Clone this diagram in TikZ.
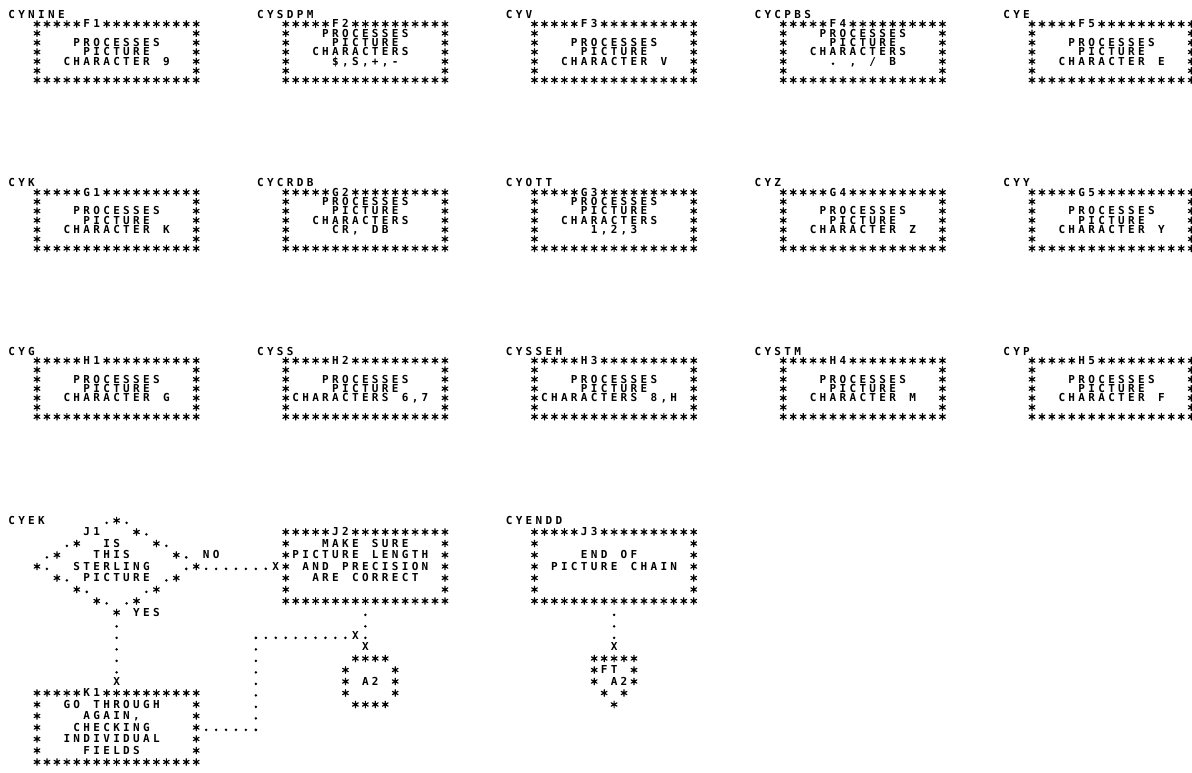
\documentclass[tikz,border=0pt]{standalone}
\usepackage{fontspec}
\newfontfamily\prt{DejaVu Sans Mono Bold}
\newdimen\cw \cw=9.95pt
\newsavebox\starbox
\newsavebox\dotbox
\AtBeginDocument{%
 \sbox\starbox{\begin{pgfpicture}\pgfsetbaseline{-3.75pt}\pgfsetlinewidth{1.2pt}\pgfsetroundcap
  \pgfpathmoveto{\pgfpointpolar{90}{3.3pt}}\pgfpathlineto{\pgfpointpolar{270}{3.3pt}}%
  \pgfpathmoveto{\pgfpointpolar{30}{3.3pt}}\pgfpathlineto{\pgfpointpolar{210}{3.3pt}}%
  \pgfpathmoveto{\pgfpointpolar{150}{3.3pt}}\pgfpathlineto{\pgfpointpolar{330}{3.3pt}}%
  \pgfusepath{stroke}\end{pgfpicture}}%
 \sbox\dotbox{\begin{pgfpicture}\pgfsetbaseline{-1.4pt}\pgfpathcircle{\pgfpointorigin}{1.4pt}\pgfusepath{fill}\end{pgfpicture}}}
\def\gchar#1{\ifx*#1\makebox[\cw]{\usebox\starbox}\else\ifx.#1\makebox[\cw]{\usebox\dotbox}\else\makebox[\cw]{#1}\fi\fi}
\def\gline#1{\glinei#1\relax}
\def\glinei#1{\ifx\relax#1\else\gchar{#1}\expandafter\glinei\fi}
\newcommand\il[2]{\gchar*\makebox[15\cw][l]{\hspace*{#1\cw}\gline{#2}}\gchar*}
\newcommand\cbox[7]{\vtop{\baselineskip=#2\lineskiplimit=-100pt\lineskip=0pt
 \hbox{\gline{*****#1**********}}\hbox{#3}\hbox{#4}\hbox{#5}\hbox{#6}\hbox{#7}%
 \hbox{\gline{*****************}}}}
\newcommand\pxc[1]{(37+9.95*(#1)-4.975)}
\newcommand\ryf[1]{(27.75+9.35*(#1))}
\newcommand\rjr[1]{(535.75+11.5*(#1))}
\newcommand\dxc[1]{(37+9.95*(#1))}
\newcommand\djr[1]{(534.35+11.5*(#1))}
\begin{document}
\begin{tikzpicture}[x=1pt,y=-1pt,
  txt/.style={inner sep=0pt,outer sep=0pt,anchor=base west,font=\prt\fontsize{11}{11}\selectfont},
  hdots/.style={line width=2.8pt,line cap=round,dash pattern=on 0pt off 9.94pt},
  vdots/.style={line width=2.8pt,line cap=round,dash pattern=on 0pt off 11.49pt}]
\fill[white] (0,0) rectangle (1192,773);
\useasboundingbox (0,0) rectangle (1192,773);
% ---------- row F ----------
\node[txt] (F1l) at ({\pxc{-2.55}},{\ryf{-1}}) {\gline{CYNINE}};
\node[txt] (F1) at ({\pxc{0}},{\ryf{0}}) {\cbox{F1}{9.35pt}{\il0{}}{\il3{PROCESSES}}{\il4{PICTURE}}{\il2{CHARACTER~9}}{\il0{}}};
\node[txt] (F2l) at ({\pxc{22.45}},{\ryf{-1}}) {\gline{CYSDPM}};
\node[txt] (F2) at ({\pxc{25}},{\ryf{0}}) {\cbox{F2}{9.35pt}{\il3{PROCESSES}}{\il4{PICTURE}}{\il2{CHARACTERS}}{\il4{\$,S,+,-}}{\il0{}}};
\node[txt] (F3l) at ({\pxc{47.45}},{\ryf{-1}}) {\gline{CYV}};
\node[txt] (F3) at ({\pxc{50}},{\ryf{0}}) {\cbox{F3}{9.35pt}{\il0{}}{\il3{PROCESSES}}{\il4{PICTURE}}{\il2{CHARACTER~V}}{\il0{}}};
\node[txt] (F4l) at ({\pxc{72.45}},{\ryf{-1}}) {\gline{CYCPBS}};
\node[txt] (F4) at ({\pxc{75}},{\ryf{0}}) {\cbox{F4}{9.35pt}{\il3{PROCESSES}}{\il4{PICTURE}}{\il2{CHARACTERS}}{\il4{.~,~/~B}}{\il0{}}};
\node[txt] (F5l) at ({\pxc{97.45}},{\ryf{-1}}) {\gline{CYE}};
\node[txt] (F5) at ({\pxc{100}},{\ryf{0}}) {\cbox{F5}{9.35pt}{\il0{}}{\il3{PROCESSES}}{\il4{PICTURE}}{\il2{CHARACTER~E}}{\il0{}}};
% ---------- row G ----------
\node[txt] (G1l) at ({\pxc{-2.55}},{\ryf{17}}) {\gline{CYK}};
\node[txt] (G1) at ({\pxc{0}},{\ryf{18}}) {\cbox{G1}{9.35pt}{\il0{}}{\il3{PROCESSES}}{\il4{PICTURE}}{\il2{CHARACTER~K}}{\il0{}}};
\node[txt] (G2l) at ({\pxc{22.45}},{\ryf{17}}) {\gline{CYCRDB}};
\node[txt] (G2) at ({\pxc{25}},{\ryf{18}}) {\cbox{G2}{9.35pt}{\il3{PROCESSES}}{\il4{PICTURE}}{\il2{CHARACTERS}}{\il4{CR,~DB}}{\il0{}}};
\node[txt] (G3l) at ({\pxc{47.45}},{\ryf{17}}) {\gline{CYOTT}};
\node[txt] (G3) at ({\pxc{50}},{\ryf{18}}) {\cbox{G3}{9.35pt}{\il3{PROCESSES}}{\il4{PICTURE}}{\il2{CHARACTERS}}{\il5{1,2,3}}{\il0{}}};
\node[txt] (G4l) at ({\pxc{72.45}},{\ryf{17}}) {\gline{CYZ}};
\node[txt] (G4) at ({\pxc{75}},{\ryf{18}}) {\cbox{G4}{9.35pt}{\il0{}}{\il3{PROCESSES}}{\il4{PICTURE}}{\il2{CHARACTER~Z}}{\il0{}}};
\node[txt] (G5l) at ({\pxc{97.45}},{\ryf{17}}) {\gline{CYY}};
\node[txt] (G5) at ({\pxc{100}},{\ryf{18}}) {\cbox{G5}{9.35pt}{\il0{}}{\il3{PROCESSES}}{\il4{PICTURE}}{\il2{CHARACTER~Y}}{\il0{}}};
% ---------- row H ----------
\node[txt] (H1l) at ({\pxc{-2.55}},{\ryf{35}}) {\gline{CYG}};
\node[txt] (H1) at ({\pxc{0}},{\ryf{36}}) {\cbox{H1}{9.35pt}{\il0{}}{\il3{PROCESSES}}{\il4{PICTURE}}{\il2{CHARACTER~G}}{\il0{}}};
\node[txt] (H2l) at ({\pxc{22.45}},{\ryf{35}}) {\gline{CYSS}};
\node[txt] (H2) at ({\pxc{25}},{\ryf{36}}) {\cbox{H2}{9.35pt}{\il0{}}{\il3{PROCESSES}}{\il4{PICTURE}}{\il0{CHARACTERS~6,7}}{\il0{}}};
\node[txt] (H3l) at ({\pxc{47.45}},{\ryf{35}}) {\gline{CYSSEH}};
\node[txt] (H3) at ({\pxc{50}},{\ryf{36}}) {\cbox{H3}{9.35pt}{\il0{}}{\il3{PROCESSES}}{\il4{PICTURE}}{\il0{CHARACTERS~8,H}}{\il0{}}};
\node[txt] (H4l) at ({\pxc{72.45}},{\ryf{35}}) {\gline{CYSTM}};
\node[txt] (H4) at ({\pxc{75}},{\ryf{36}}) {\cbox{H4}{9.35pt}{\il0{}}{\il3{PROCESSES}}{\il4{PICTURE}}{\il2{CHARACTER~M}}{\il0{}}};
\node[txt] (H5l) at ({\pxc{97.45}},{\ryf{35}}) {\gline{CYP}};
\node[txt] (H5) at ({\pxc{100}},{\ryf{36}}) {\cbox{H5}{9.35pt}{\il0{}}{\il3{PROCESSES}}{\il4{PICTURE}}{\il2{CHARACTER~F}}{\il0{}}};
% ---------- row J / K ----------
\node[txt] (J1l) at ({\pxc{-2.55}},{\rjr{-1}}) {\gline{CYEK}};
\node[txt] (J1) at ({\pxc{0}},{\rjr{-1}}) {\vtop{\baselineskip=11.5pt\lineskiplimit=-100pt\lineskip=0pt
 \hbox{\gline{~~~~~~~.*.}}
 \hbox{\gline{~~~~~J1~~~*.}}
 \hbox{\gline{~~~.*~~IS~~~*.}}
 \hbox{\gline{~.*~~~THIS~~~~*.~NO}}
 \hbox{\gline{*.~~STERLING~~~.*}}
 \hbox{\gline{~~*.~PICTURE~.*}}
 \hbox{\gline{~~~~*.~~~~~.*}}
 \hbox{\gline{~~~~~~*.~.*}}
 \hbox{\gline{~~~~~~~~*~YES}}}};
\node[txt] (J2) at ({\pxc{25}},{\rjr{0}}) {\cbox{J2}{11.5pt}{\il3{MAKE~SURE}}{\il0{PICTURE~LENGTH}}{\il1{AND~PRECISION}}{\il2{ARE~CORRECT}}{\il0{}}};
\node[txt] (J3l) at ({\pxc{47.45}},{\rjr{-1}}) {\gline{CYENDD}};
\node[txt] (J3) at ({\pxc{50}},{\rjr{0}}) {\cbox{J3}{11.5pt}{\il0{}}{\il4{END~OF}}{\il1{PICTURE~CHAIN}}{\il0{}}{\il0{}}};
\node[txt] (K1) at ({\pxc{0}},{\rjr{14}}) {\cbox{K1}{11.5pt}{\il2{GO~THROUGH}}{\il4{AGAIN,}}{\il3{CHECKING}}{\il2{INDIVIDUAL}}{\il4{FIELDS}}};
% off-page connectors
\node[txt] (A2) at ({\pxc{31}},{\rjr{11}}) {\vtop{\baselineskip=11.5pt\lineskiplimit=-100pt\lineskip=0pt
 \hbox{\gline{~****}}\hbox{\gline{*~~~~*}}\hbox{\gline{*~A2~*}}\hbox{\gline{*~~~~*}}\hbox{\gline{~****}}}};
\node[txt] (FT) at ({\pxc{56}},{\rjr{11}}) {\vtop{\baselineskip=11.5pt\lineskiplimit=-100pt\lineskip=0pt
 \hbox{\gline{*****}}\hbox{\gline{*FT~*}}\hbox{\gline{*~A2*}}\hbox{\gline{~*~*}}\hbox{\gline{~~*}}}};
% arrival marks
\node[txt] (xJ2) at ({\pxc{24}},{\rjr{3}}) {\gline{X}};
\node[txt] (xK1) at ({\pxc{8}},{\rjr{13}}) {\gline{X}};
\node[txt] (xH) at ({\pxc{32}},{\rjr{9}}) {\gline{X}};
\node[txt] (xA2) at ({\pxc{33}},{\rjr{10}}) {\gline{X}};
\node[txt] (xFT) at ({\pxc{58}},{\rjr{10}}) {\gline{X}};
% connector coordinates
\coordinate (noS) at ({\dxc{17}},{\djr{3}});
\coordinate (noE) at ({\dxc{23}},{\djr{3}});
\coordinate (yesS) at ({\dxc{8}},{\djr{8}});
\coordinate (yesE) at ({\dxc{8}},{\djr{12}});
\coordinate (j2S) at ({\dxc{33}},{\djr{7}});
\coordinate (j2E) at ({\dxc{33}},{\djr{9}});
\coordinate (k1S) at ({\dxc{17}},{\djr{17}});
\coordinate (k1C) at ({\dxc{22}},{\djr{17}});
\coordinate (k1D) at ({\dxc{22}},{\djr{9}});
\coordinate (k1E) at ({\dxc{31}},{\djr{9}});
\coordinate (j3S) at ({\dxc{58}},{\djr{7}});
\coordinate (j3E) at ({\dxc{58}},{\djr{9}});
\draw[hdots] (noS) -- (noE);
\draw[vdots] (yesS) -- (yesE);
\draw[vdots] (j2S) -- (j2E);
\draw[hdots] (k1S) -- (k1C);
\draw[vdots] (k1C) -- (k1D);
\draw[hdots] (k1D) -- (k1E);
\draw[vdots] (j3S) -- (j3E);
\end{tikzpicture}
\end{document}
